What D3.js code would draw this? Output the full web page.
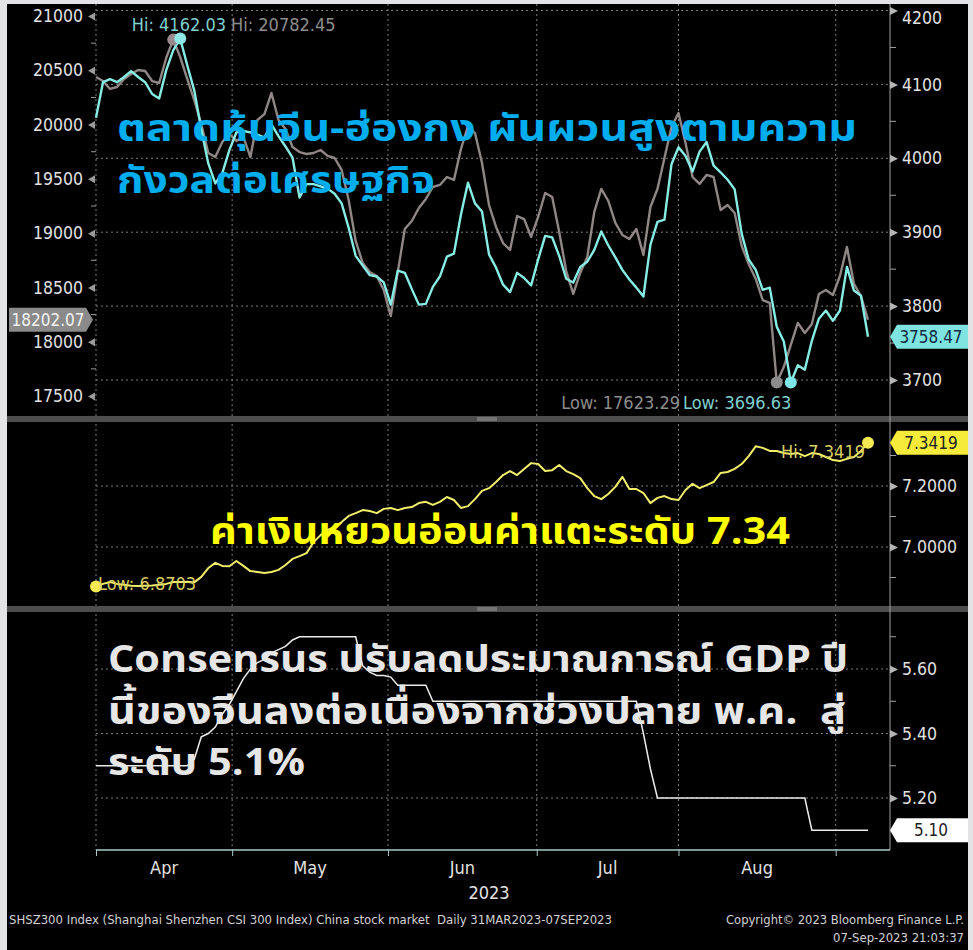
<!DOCTYPE html>
<html>
<head>
<meta charset="utf-8">
<script src="https://cdn.jsdelivr.net/npm/d3@7"></script>
<style>
  body { margin: 0; background: #e3e3e5; }
  svg { display: block; }
  .axis text { font-family: 'DejaVu Sans Condensed', 'DejaVu Sans', sans-serif; fill: #e2e2e2; }
  .thai { font-family: 'Noto Sans Thai', 'Noto Sans Thai UI', 'Noto Sans', sans-serif; font-weight: 700; white-space: pre; }
  .mono { font-family: 'DejaVu Sans Condensed', 'DejaVu Sans', sans-serif; white-space: pre; }
</style>
</head>
<body>
<div id="wrapper"></div>
<script>
// daily closes, 31 Mar 2023 - 07 Sep 2023 (trading-day index)
const csi300 = [
  4055, 4103, 4107, 4103, 4110, 4118, 4110, 4103, 4087, 4081,
  4119, 4146, 4162.03, 4126, 4092, 4039, 3993, 3966, 3980, 4011,
  4035, 4037, 4035, 4032, 4028, 4046, 4030, 4016, 4001, 3947,
  3965, 3965, 3962, 3959, 3952, 3939, 3906, 3868, 3855, 3842,
  3840, 3832, 3802, 3848, 3845, 3823, 3802, 3803, 3826, 3840,
  3867, 3871, 3924, 3967, 3939, 3928, 3870, 3852, 3829, 3819,
  3845, 3838, 3828, 3863, 3895, 3893, 3868, 3837, 3832, 3853,
  3860, 3876, 3901, 3882, 3866, 3849, 3836, 3825, 3813, 3883,
  3914, 3917, 3992, 4015, 4003, 3982, 4009, 4022, 3990, 3981,
  3971, 3958, 3898, 3863, 3849, 3822, 3825, 3772, 3752, 3696.63,
  3720, 3714, 3753, 3783, 3794, 3780, 3794, 3853, 3821, 3814,
  3758.47,
]

const hsi = [
  20438, 20401, 20328, 20346, 20420, 20466, 20503, 20493, 20401, 20383,
  20613, 20782.45, 20622, 20420, 20226, 20005, 19738, 19701, 19840, 19913,
  19849, 19886, 19701, 20042, 20097, 20291, 20042, 19959, 19793, 19747,
  19729, 19738, 19766, 19711, 19692, 19582, 19305, 18928, 18725, 18642,
  18605, 18476, 18237, 18642, 19038, 19112, 19232, 19315, 19425, 19444,
  19517, 19490, 19775, 19987, 19922, 19646, 19259, 19057, 18909, 18845,
  19158, 19130, 18965, 19149, 19370, 19333, 19011, 18651, 18440, 18633,
  18780, 19195, 19407, 19296, 19094, 18983, 18946, 19038, 18799, 19241,
  19407, 19692, 19978, 20107, 19830, 19517, 19453, 19536, 19517, 19213,
  19259, 19186, 18882, 18716, 18578, 18384, 18357, 17623.29, 17767, 17970,
  18173, 18080, 18163, 18440, 18476, 18430, 18605, 18872, 18532, 18421,
  18202.07,
]

const usdcny = [
  6.8703, 6.879, 6.885, 6.879, 6.876, 6.873, 6.872, 6.873, 6.874, 6.876,
  6.879, 6.885, 6.885, 6.886, 6.884, 6.902, 6.931, 6.948, 6.938, 6.937,
  6.954, 6.938, 6.921, 6.918, 6.915, 6.918, 6.925, 6.941, 6.961, 6.970,
  6.980, 7.016, 7.039, 7.056, 7.066, 7.082, 7.102, 7.111, 7.121, 7.118,
  7.111, 7.125, 7.128, 7.121, 7.128, 7.131, 7.144, 7.148, 7.138, 7.148,
  7.164, 7.154, 7.128, 7.134, 7.157, 7.184, 7.193, 7.213, 7.236, 7.249,
  7.236, 7.256, 7.275, 7.272, 7.249, 7.252, 7.269, 7.249, 7.239, 7.226,
  7.193, 7.167, 7.157, 7.174, 7.197, 7.230, 7.190, 7.190, 7.177, 7.144,
  7.161, 7.167, 7.157, 7.154, 7.187, 7.207, 7.193, 7.203, 7.213, 7.243,
  7.246, 7.256, 7.272, 7.298, 7.330, 7.325, 7.315, 7.315, 7.308, 7.305,
  7.308, 7.298, 7.308, 7.305, 7.295, 7.285, 7.282, 7.289, 7.295, 7.315,
  7.3419,
]

const gdpConsensus = [
  5.3, 5.3, 5.3, 5.3, 5.3, 5.3, 5.3, 5.3, 5.3, 5.3,
  5.3, 5.3, 5.3, 5.3, 5.32, 5.39, 5.4, 5.42, 5.46, 5.49,
  5.53, 5.57, 5.6, 5.62, 5.63, 5.65, 5.66, 5.67, 5.69, 5.7,
  5.7, 5.7, 5.7, 5.7, 5.7, 5.7, 5.7, 5.7, 5.61, 5.59,
  5.58, 5.58, 5.575, 5.55, 5.55, 5.55, 5.55, 5.55, 5.5, 5.5,
  5.5, 5.5, 5.5, 5.5, 5.5, 5.5, 5.5, 5.5, 5.5, 5.5,
  5.5, 5.5, 5.5, 5.5, 5.5, 5.5, 5.5, 5.5, 5.5, 5.5,
  5.5, 5.5, 5.5, 5.5, 5.5, 5.5, 5.5, 5.5, 5.4, 5.29,
  5.2, 5.2, 5.2, 5.2, 5.2, 5.2, 5.2, 5.2, 5.2, 5.2,
  5.2, 5.2, 5.2, 5.2, 5.2, 5.2, 5.2, 5.2, 5.2, 5.2,
  5.2, 5.2, 5.1, 5.1, 5.1, 5.1, 5.1, 5.1, 5.1, 5.1,
  5.1,
]

// trading-day index where each month starts
const monthStarts = [0, 19.4, 41.6, 62.8, 83, 105.4]
const monthLabels = ['Apr', 'May', 'Jun', 'Jul', 'Aug']

const hsiTicks = [17500, 18000, 18500, 19000, 19500, 20000, 20500, 21000]
const hsiMinor = [17750, 18250, 18750, 19250, 19750, 20250, 20750]
const csiTicks = [3700, 3800, 3900, 4000, 4100, 4200]
const csiMinor = [3750, 3850, 3950, 4050, 4150]
const cnyTicks = [7.0, 7.2]
const cnyMinor = [6.9, 7.1, 7.3]
const gdpTicks = [5.2, 5.4, 5.6]
const gdpMinor = [5.3, 5.5, 5.7]

const titleStock = ['ตลาดหุ้นจีน-ฮ่องกง ผันผวนสูงตามความ', 'กังวลต่อเศรษฐกิจ']
const titleYuan = ['ค่าเงินหยวนอ่อนค่าแตะระดับ 7.34']
const titleGdp = ['Consensus ปรับลดประมาณการณ์ GDP ปี', 'นี้ของจีนลงต่อเนื่องจากช่วงปลาย พ.ค.  สู่', 'ระดับ 5.1%']

function drawChart() {
  const dimensions = {
    width: 973,
    height: 950,
    left: 96,
    right: 890,
    lastX: 868,
    top: { y0: 4, y1: 416 },
    mid: { y0: 423, y1: 606 },
    bottom: { y0: 612, y1: 850 },
  }

  const svg = d3.select('#wrapper')
    .append('svg')
    .attr('width', dimensions.width)
    .attr('height', dimensions.height)

  svg.append('rect')
    .attr('x', 7).attr('y', 4)
    .attr('width', 961).attr('height', 946)
    .attr('fill', '#000')

  const xScale = d3.scaleLinear()
    .domain([0, csi300.length - 1])
    .range([dimensions.left, dimensions.lastX])

  const hsiScale = d3.scaleLinear().domain([17500, 21000]).range([396, 16])
  const csiScale = d3.scaleLinear().domain([3700, 4200]).range([380, 10.5])
  const cnyScale = d3.scaleLinear().domain([7.0, 7.2]).range([547, 486])
  const gdpScale = d3.scaleLinear().domain([5.2, 5.6]).range([798, 669])

  // grid
  const grid = svg.append('g')
    .attr('stroke', '#7c7c7c')
    .attr('stroke-width', 1)
    .attr('stroke-dasharray', '2,3')

  grid.selectAll('.vgrid')
    .data(monthStarts)
    .enter().append('line')
    .attr('x1', d => xScale(d)).attr('x2', d => xScale(d))
    .attr('y1', dimensions.top.y0).attr('y2', dimensions.bottom.y1)

  const hLines = [
    ...csiTicks.map(d => csiScale(d)),
    ...cnyTicks.map(d => cnyScale(d)),
    ...gdpTicks.map(d => gdpScale(d)),
  ]
  grid.selectAll('.hgrid')
    .data(hLines)
    .enter().append('line')
    .attr('x1', dimensions.left).attr('x2', dimensions.right)
    .attr('y1', d => d).attr('y2', d => d)

  // separators
  const seps = [dimensions.top.y1, dimensions.mid.y1]
  seps.forEach(y => {
    svg.append('rect')
      .attr('x', 7).attr('y', y)
      .attr('width', 961).attr('height', 6)
      .attr('fill', '#4d4d4d')
    svg.append('line')
      .attr('x1', 477).attr('x2', 497)
      .attr('y1', y + 2).attr('y2', y + 2)
      .attr('stroke', '#9a9a9a')
    svg.append('line')
      .attr('x1', 477).attr('x2', 497)
      .attr('y1', y + 4).attr('y2', y + 4)
      .attr('stroke', '#9a9a9a')
  })

  // right axis line
  svg.append('line')
    .attr('x1', dimensions.right).attr('x2', dimensions.right)
    .attr('y1', dimensions.top.y0).attr('y2', dimensions.bottom.y1)
    .attr('stroke', '#a0a0a0')

  // left axis (HSI)
  const hsiAxisGenerator = d3.axisLeft()
    .scale(hsiScale)
    .tickValues(hsiTicks)
    .tickSize(0)
    .tickPadding(13)
    .tickFormat(d3.format('d'))

  const hsiAxis = svg.append('g')
    .attr('class', 'axis')
    .attr('transform', `translate(${dimensions.left},0)`)
    .call(hsiAxisGenerator)
  hsiAxis.select('.domain').remove()
  hsiAxis.selectAll('text').attr('font-size', 17.5)
  hsiAxis.selectAll('.tick').append('path')
    .attr('d', 'M-1,-4L-1,4L-8,0Z')
    .attr('fill', '#9a9a9a')
  hsiAxis.selectAll('.minor')
    .data(hsiMinor)
    .enter().append('line')
    .attr('x1', -5).attr('x2', 0)
    .attr('y1', d => hsiScale(d)).attr('y2', d => hsiScale(d))
    .attr('stroke', '#9a9a9a')

  // right axes
  function rightAxis(scale, ticks, minor, format) {
    const generator = d3.axisRight()
      .scale(scale)
      .tickValues(ticks)
      .tickSize(0)
      .tickPadding(12)
      .tickFormat(format)
    const axis = svg.append('g')
      .attr('class', 'axis')
      .attr('transform', `translate(${dimensions.right},0)`)
      .call(generator)
    axis.select('.domain').remove()
    axis.selectAll('text').attr('font-size', 17.5)
    axis.selectAll('.tick').append('path')
      .attr('d', 'M0,-4L0,4L8,0Z')
      .attr('fill', '#b5b5b5')
    axis.selectAll('.minor')
      .data(minor)
      .enter().append('line')
      .attr('x1', 0).attr('x2', 6)
      .attr('y1', d => scale(d)).attr('y2', d => scale(d))
      .attr('stroke', '#a0a0a0')
    return axis
  }
  const csiAxis = rightAxis(csiScale, csiTicks, csiMinor, d3.format('d'))
  csiAxis.selectAll('.tick text')
    .filter(d => d === 4200)
    .attr('dy', '0.75em')
  rightAxis(cnyScale, cnyTicks, cnyMinor, d3.format('.4f'))
  rightAxis(gdpScale, gdpTicks, gdpMinor, d3.format('.2f'))

  // bottom axis
  const xAxisGenerator = d3.axisBottom()
    .scale(xScale)
    .tickValues(monthStarts)
    .tickSize(6)
    .tickFormat('')
  const xAxis = svg.append('g')
    .attr('class', 'axis')
    .attr('transform', `translate(0,${dimensions.bottom.y1})`)
    .call(xAxisGenerator)
  xAxis.select('.domain')
    .attr('d', `M${dimensions.left},0H${dimensions.right}`)
    .attr('stroke', '#a9c9c9')
    .attr('stroke-width', 1.5)
  xAxis.selectAll('.tick line').attr('stroke', '#a9c9c9')

  xAxis.selectAll('.month')
    .data(monthLabels)
    .enter().append('text')
    .attr('x', (d, i) => (xScale(monthStarts[i]) + xScale(monthStarts[i + 1])) / 2)
    .attr('y', 24)
    .attr('text-anchor', 'middle')
    .attr('font-size', 18)
    .text(d => d)
  xAxis.append('text')
    .attr('x', 489)
    .attr('y', 49)
    .attr('text-anchor', 'middle')
    .attr('font-size', 18)
    .text('2023')

  // lines
  const lineOf = scale => d3.line()
    .x((d, i) => xScale(i))
    .y(d => scale(d))

  svg.append('path')
    .datum(hsi)
    .attr('d', lineOf(hsiScale))
    .attr('fill', 'none')
    .attr('stroke', '#8f8686')
    .attr('stroke-width', 2.4)
    .attr('stroke-linejoin', 'round')

  svg.append('path')
    .datum(csi300)
    .attr('d', lineOf(csiScale))
    .attr('fill', 'none')
    .attr('stroke', '#86ece4')
    .attr('stroke-width', 2.4)
    .attr('stroke-linejoin', 'round')

  svg.append('path')
    .datum(usdcny)
    .attr('d', lineOf(cnyScale))
    .attr('fill', 'none')
    .attr('stroke', '#f2ee6a')
    .attr('stroke-width', 2)
    .attr('stroke-linejoin', 'round')

  svg.append('path')
    .datum(gdpConsensus)
    .attr('d', lineOf(gdpScale))
    .attr('fill', 'none')
    .attr('stroke', '#ececec')
    .attr('stroke-width', 1.5)

  // hi / low markers
  const hiLo = (data, scale, fn) => {
    const v = fn(data)
    return { i: data.indexOf(v), v, x: xScale(data.indexOf(v)), y: scale(v) }
  }
  const hsiHi = hiLo(hsi, hsiScale, d3.max)
  const hsiLo = hiLo(hsi, hsiScale, d3.min)
  const csiHi = hiLo(csi300, csiScale, d3.max)
  const csiLo = hiLo(csi300, csiScale, d3.min)
  const cnyHi = hiLo(usdcny, cnyScale, d3.max)
  const cnyLo = hiLo(usdcny, cnyScale, d3.min)

  const markers = [
    [hsiHi, '#9a8a8e'], [hsiLo, '#8c8c8c'],
    [csiHi, '#8ee9e6'], [csiLo, '#7ee7e7'],
    [cnyHi, '#f4ea52'], [cnyLo, '#f4ea52'],
  ]
  svg.selectAll('.marker')
    .data(markers)
    .enter().append('circle')
    .attr('cx', d => d[0].x)
    .attr('cy', d => d[0].y)
    .attr('r', 6)
    .attr('fill', d => d[1])

  const note = (x, y, txt, color, anchor) => svg.append('text')
    .attr('class', 'mono')
    .attr('x', x).attr('y', y)
    .attr('font-size', 18)
    .attr('fill', color)
    .attr('text-anchor', anchor || 'start')
    .text(txt)

  note(226, 31, `Hi: ${csiHi.v.toFixed(2)}`, '#7fd0cf', 'end')
  note(231, 31, `Hi: ${hsiHi.v.toFixed(2)}`, '#8d8d8d')
  note(680, 409, `Low: ${hsiLo.v.toFixed(2)}`, '#8d8d8d', 'end')
  note(683, 409, `Low: ${csiLo.v.toFixed(2)}`, '#7fd0cf')
  note(98, 590, `Low: ${cnyLo.v.toFixed(4)}`, '#d8cf64')
  note(865, 458, `Hi: ${cnyHi.v.toFixed(4)}`, '#d8cf64', 'end')

  // last-value tags
  const tag = (side, y, txt, fill, color) => {
    const g = svg.append('g').attr('transform', `translate(0,${y})`)
    const path = side === 'left'
      ? 'M9,-12H86L93,0L86,12H9Z'
      : 'M897,-12H968V12H897L890,0Z'
    g.append('path').attr('d', path).attr('fill', fill)
    g.append('text')
      .attr('class', 'mono')
      .attr('x', side === 'left' ? 48 : 931)
      .attr('y', 6)
      .attr('text-anchor', 'middle')
      .attr('font-size', 17)
      .attr('fill', color)
      .text(txt)
  }
  tag('left', hsiScale(hsi[hsi.length - 1]), '18202.07', '#8a8a8a', '#f3f3f3')
  tag('right', csiScale(csi300[csi300.length - 1]), '3758.47', '#7fe3df', '#0d2c44')
  tag('right', cnyScale(usdcny[usdcny.length - 1]), '7.3419', '#f6ea3a', '#222')
  tag('right', gdpScale(gdpConsensus[gdpConsensus.length - 1]), '5.10', '#ffffff', '#222')

  // overlay titles, stretched to the widths of the original lines
  const title = (lines, widths, x, y0, lh, size, color) => {
    lines.forEach((t, i) => {
      svg.append('text')
        .attr('class', 'thai')
        .attr('x', x)
        .attr('y', y0 + i * lh)
        .attr('font-size', size)
        .attr('fill', color)
        .attr('textLength', widths[i])
        .attr('lengthAdjust', 'spacingAndGlyphs')
        .text(t)
    })
  }
  title(titleStock, [740, 318], 117, 141, 52, 38, '#00aeef')
  title(titleYuan, [580], 210, 544, 0, 37, '#ffff00')
  title(titleGdp, [740, 738, 197], 108, 672, 51.5, 38, '#e6e6e6')

  // footer
  const footer = (x, y, txt, anchor, len) => svg.append('text')
    .attr('class', 'mono')
    .attr('x', x).attr('y', y)
    .attr('text-anchor', anchor)
    .attr('font-size', 12.5)
    .attr('fill', '#d2d2d2')
    .attr('textLength', len)
    .attr('lengthAdjust', 'spacingAndGlyphs')
    .text(txt)
  footer(9, 924, 'SHSZ300 Index (Shanghai Shenzhen CSI 300 Index) China stock market  Daily 31MAR2023-07SEP2023', 'start', 603)
  footer(964, 924, 'Copyright© 2023 Bloomberg Finance L.P.', 'end', 238)
  footer(964, 942, '07-Sep-2023 21:03:37', 'end', 131)
}

drawChart()
</script>
</body>
</html>
